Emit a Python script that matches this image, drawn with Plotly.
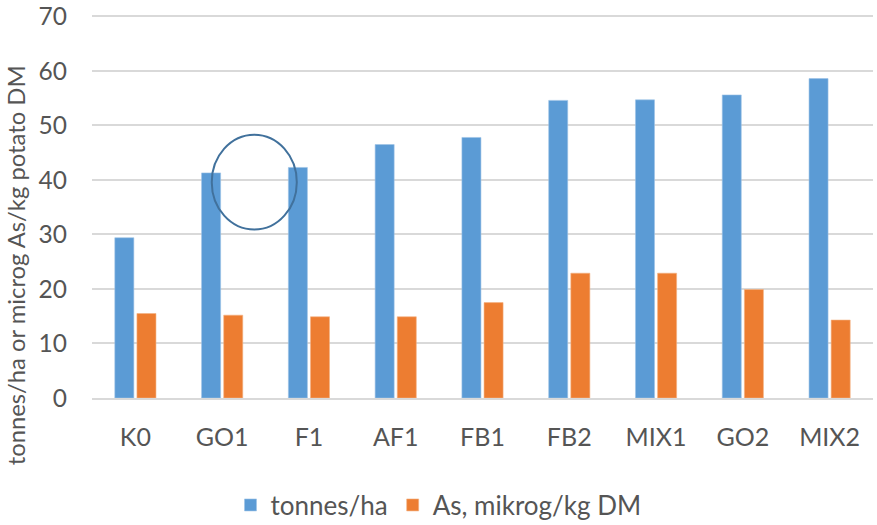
import plotly.graph_objects as go

categories = ["K0", "GO1", "F1", "AF1", "FB1", "FB2", "MIX1", "GO2", "MIX2"]
tonnes_ha = [29.4, 41.3, 42.3, 46.5, 47.8, 54.6, 54.7, 55.6, 58.6]
as_mikrog = [15.5, 15.2, 14.9, 14.9, 17.5, 22.9, 22.9, 19.9, 14.3]
y_ticks = [0, 10, 20, 30, 40, 50, 60, 70]

# highlight ellipse (category index / value space)
circle_x = [0.88, 1.86]
circle_y = [30.9, 48.3]

FONT = "Lato"
TXT = "#555555"

fig = go.Figure()
fig.add_trace(go.Bar(x=categories, y=tonnes_ha, name="tonnes/ha",
                     marker=dict(color="#5B9BD5", line=dict(color="#9DC3E6", width=0.6))))
fig.add_trace(go.Bar(x=categories, y=as_mikrog, name="As, mikrog/kg DM",
                     marker=dict(color="#ED7D31", line=dict(color="#F4B183", width=0.6))))

fig.add_shape(type="circle", xref="x", yref="y",
              x0=circle_x[0], x1=circle_x[1], y0=circle_y[0], y1=circle_y[1],
              line=dict(color="#41719C", width=2), layer="above")

fig.add_annotation(text="tonnes/ha or microg As/kg potato DM", textangle=-90,
                   xref="paper", yref="paper", x=-0.098, y=0.344,
                   xanchor="center", yanchor="middle", showarrow=False,
                   font=dict(size=23.8, color=TXT, family=FONT))

fig.update_layout(
    width=877, height=525,
    margin=dict(l=92, r=4, t=10.5, b=127, autoexpand=False),
    paper_bgcolor="white", plot_bgcolor="white",
    barmode="group", bargap=0.49, bargroupgap=0.14,
    font=dict(family=FONT, color=TXT, size=22),
    showlegend=True,
    legend=dict(orientation="h", xref="container", yref="container",
                x=0.5, xanchor="center", y=0.038, yanchor="middle",
                font=dict(size=26, color=TXT), itemwidth=30,
                traceorder="normal"),
)
fig.update_yaxes(range=[0, 71], tickvals=y_ticks, showgrid=True,
                 gridcolor="#D9D9D9", gridwidth=1.6, zeroline=False,
                 showline=False, tickfont=dict(size=24.5, color=TXT),
                 ticklabelstandoff=24, ticklabeloverflow="allow",
                 automargin=False)
fig.update_xaxes(showline=True, linecolor="#D9D9D9", linewidth=1.6,
                 tickfont=dict(size=25, color=TXT), ticklabelstandoff=16,
                 automargin=False)

fig.write_html("out.html")
